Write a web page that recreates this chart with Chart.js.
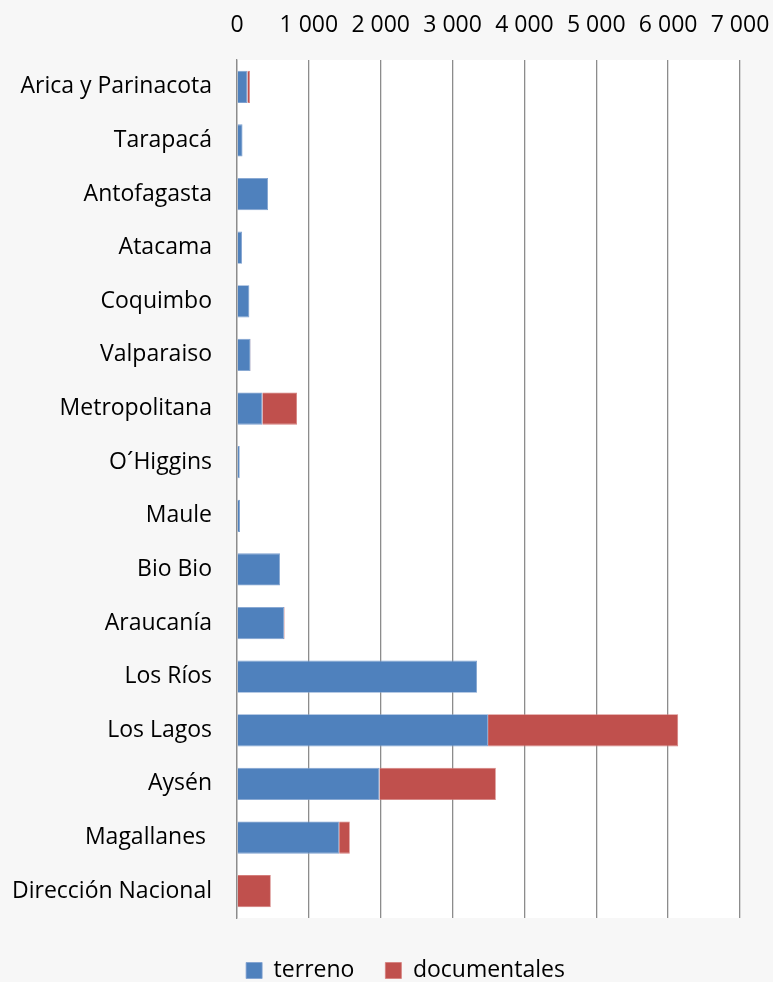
<!DOCTYPE html>
<html>
<head>
<meta charset="utf-8">
<script src="https://cdn.jsdelivr.net/npm/chart.js@4"></script>
<style>
html,body{margin:0;padding:0;background:#f7f7f7;}
#wrap{width:773px;height:982px;position:relative;}
</style>
</head>
<body>
<div id="wrap"><canvas id="c" width="773" height="982"></canvas></div>
<script>
const categories = ["Arica y Parinacota","Tarapacá","Antofagasta","Atacama","Coquimbo","Valparaiso","Metropolitana","O´Higgins","Maule","Bio Bio","Araucanía","Los Ríos","Los Lagos","Aysén","Magallanes ","Dirección Nacional"];
const terreno = [145, 77, 432, 70, 172, 188, 353, 38, 42, 598, 655, 3340, 3494, 1982, 1422, 0];
const documentales = [35, 0, 0, 0, 0, 5, 482, 0, 0, 0, 8, 0, 2646, 1620, 148, 470];
const xTicks = [0,1000,2000,3000,4000,5000,6000,7000];
const seriesNames = ["terreno","documentales"];

const FONT = "'Open Sans', sans-serif";
const FS = 23;
const plotBg = {
  id:'plotBg',
  beforeInit(chart){
    const lg = chart.legend;
    if (lg) {
      const orig = lg.fit.bind(lg);
      lg.fit = function(){ orig(); this.height -= 10; };
    }
  },
  afterLayout(chart){
    const lg = chart.legend;
    if (lg) { lg.left += 19; lg.right += 19; }
  },
  beforeDraw(chart){
    const {ctx, chartArea:a} = chart;
    ctx.save(); ctx.fillStyle='#ffffff';
    ctx.fillRect(a.left, a.top, a.right-a.left, a.bottom-a.top);
    ctx.restore();
  }
};
new Chart(document.getElementById('c'), {
  type:'bar',
  data:{
    labels:categories,
    datasets:[
      {label:seriesNames[0], data:terreno, backgroundColor:'#4f81bd', borderColor:'#7da0cf', borderWidth:0.8, xAxisID:'x'},
      {label:seriesNames[1], data:documentales, backgroundColor:'#c0504d', borderColor:'#d47d7b', borderWidth:0.8, xAxisID:'x'}
    ]
  },
  options:{
    indexAxis:'y',
    responsive:false,
    animation:false,
    layout:{padding:{left:0,right:0,top:0,bottom:0}},
    datasets:{bar:{categoryPercentage:1, barPercentage:0.6}},
    plugins:{
      tooltip:{enabled:false},
      legend:{
        position:'bottom',
        labels:{font:{family:FONT,size:FS}, color:'#000', boxWidth:16, boxHeight:16, padding:31, useBorderRadius:false}
      }
    },
    scales:{
      x:{
        position:'top', stacked:true, min:0, max:7000,
        afterBuildTicks(s){ s.ticks = xTicks.map(v=>({value:v})); },
        afterFit(s){ s.height = 60; s.paddingRight = 33; s.paddingLeft = 0; },
        grid:{color:'#8c8c8c', lineWidth:1.3, drawTicks:false},
        border:{display:false},
        ticks:{font:{family:FONT,size:FS}, color:'#000', padding:21, maxRotation:0, autoSkip:false,
          callback:v=>String(v).replace(/\B(?=(\d{3})+(?!\d))/g,' ')}
      },
      x2:{
        position:'bottom', display:true, min:0, max:7000,
        afterFit(s){ s.height = 10; s.paddingRight = 0; s.paddingLeft = 0; },
        grid:{display:false, drawTicks:false},
        border:{display:false},
        ticks:{display:false}
      },
      y:{
        stacked:true,
        afterFit(s){ s.width = 237; },
        grid:{display:false, drawTicks:false},
        border:{display:true, color:'#8c8c8c', width:1.3},
        ticks:{font:{family:FONT,size:FS}, color:'#000', padding:25}
      }
    }
  },
  plugins:[plotBg]
});
</script>
</body>
</html>
